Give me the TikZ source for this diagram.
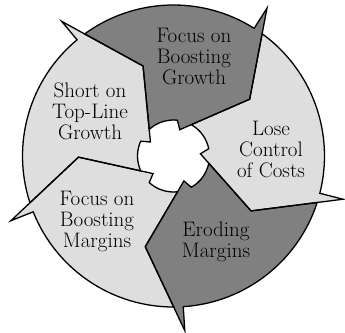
\documentclass[tikz,border=0pt]{standalone}
\begin{document}
\begin{tikzpicture}[x=1pt,y=1pt,
  segline/.style={draw=black, line width=1.3pt, line join=miter, miter limit=20, fill=none},
  darkseg/.style={fill=black!50, draw=none},
  lightseg/.style={fill=black!13, draw=none},
  lbl/.style={align=center, font=\fontsize{21}{21}\selectfont, inner sep=0pt, text=black}]
\useasboundingbox (0,0) rectangle (345,332);
\newcommand{\ringseg}[2]{%
  \path[#2] ({#1+89.36}:151) arc[start angle={#1+89.36}, end angle={#1+21}, radius=151]
    -- ({#1+21}:175) -- (#1:95) -- ({#1+40}:27) -- ({#1+47}:36)
    arc[start angle={#1+47}, end angle={#1+95.74}, radius=36]
    -- ({#1+72}:95) -- cycle;}
\begin{scope}[shift={(173.5,176)}]
  % fills
  \ringseg{108.7}{lightseg}   % Short on Top-Line Growth
  \ringseg{36.7}{darkseg}     % Focus on Boosting Growth
  \ringseg{-35.3}{lightseg}   % Lose Control of Costs
  \ringseg{-107.3}{darkseg}   % Eroding Margins
  \ringseg{-179.3}{lightseg}  % Focus on Boosting Margins
  % outlines
  \ringseg{108.7}{segline}
  \ringseg{36.7}{segline}
  \ringseg{-35.3}{segline}
  \ringseg{-107.3}{segline}
  \ringseg{-179.3}{segline}
\end{scope}
\node[lbl] (growth) at (194,275) {Focus on\\Boosting\\Growth};
\node[lbl] (costs) at (271,183) {Lose\\Control\\of Costs};
\node[lbl] (eroding) at (216,90) {Eroding\\Margins};
\node[lbl] (margins) at (97,111) {Focus on\\Boosting\\Margins};
\node[lbl] (short) at (90,221) {Short on\\Top-Line\\Growth};
\end{tikzpicture}
\end{document}
